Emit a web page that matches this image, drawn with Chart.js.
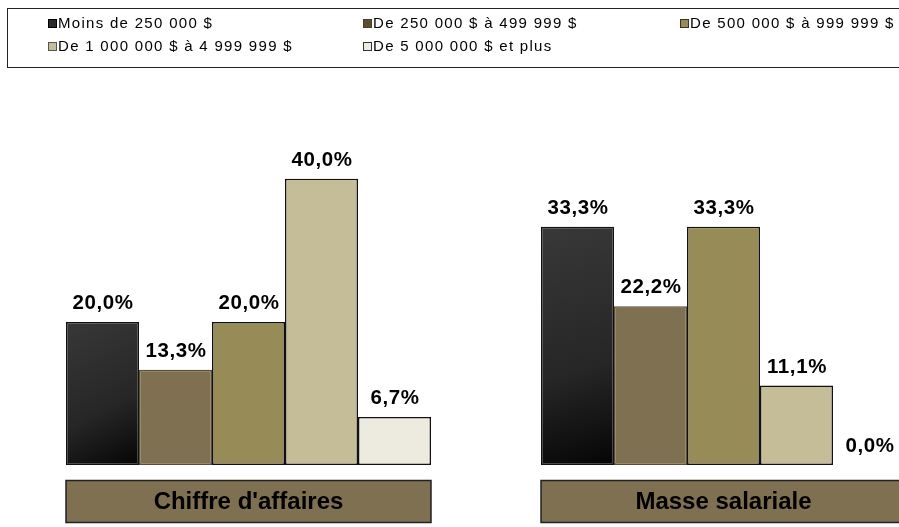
<!DOCTYPE html>
<html>
<head>
<meta charset="utf-8">
<script src="https://cdn.jsdelivr.net/npm/chart.js@4/dist/chart.umd.min.js"></script>
<style>
  html, body { margin: 0; padding: 0; background: #fff; overflow: hidden; width: 899px; height: 527px; }
  #wrap { position: absolute; left: 0; top: 0; width: 972px; height: 527px; }
  #legend { position: absolute; left: 7px; top: 8px; width: 960px; height: 60px; border: 1.5px solid #222; box-sizing: border-box; }
  .item { position: absolute; font-family: "Liberation Sans", Arial, sans-serif; font-size: 15px; letter-spacing: 1.3px; color: #000; white-space: nowrap; line-height: 16px; }
  .sw { display: inline-block; width: 7px; height: 7px; border: 1px solid #000; margin-right: 1px; vertical-align: 0px; }
</style>
</head>
<body>
<div id="wrap">
  <canvas id="c" width="972" height="527"></canvas>
  <div id="legend"></div>
</div>
<script>
const categories = ["Chiffre d'affaires", "Masse salariale"];
const seriesNames = ["Moins de 250 000 $", "De 250 000 $ à 499 999 $", "De 500 000 $ à 999 999 $", "De 1 000 000 $ à 4 999 999 $", "De 5 000 000 $ et plus"];
const moins250k = [20.0, 33.3];
const de250kA499k = [13.3, 22.2];
const de500kA999k = [20.0, 33.3];
const de1mA4m = [40.0, 11.1];
const de5mEtPlus = [6.7, 0.0];

const fills = ["#1e1e1e", "#7e7050", "#978b58", "#c5bd98", "#edebe0"];
const borders = ["#111111", "#5a4f33", "#111111", "#111111", "#111111"];
const swatchFills = ["#2a2a2a", "#5b4f31", "#978b58", "#c5bd98", "#edebe0"];
const swatchBorders = ["#000", "#4a4028", "#3a3320", "#555", "#333"];
const allSeries = [moins250k, de250kA499k, de500kA999k, de1mA4m, de5mEtPlus];
const CAT_PCT = 0.7684;

// HTML legend
const legendPos = [[40, 6], [355, 6], [672, 6], [40, 29], [355, 29]];
const lg = document.getElementById('legend');
seriesNames.forEach((n, i) => {
  const d = document.createElement('div');
  d.className = 'item';
  d.style.left = legendPos[i][0] + 'px';
  d.style.top = legendPos[i][1] + 'px';
  d.innerHTML = '<span class="sw" style="background:' + swatchFills[i] + ';border-color:' + swatchBorders[i] + '"></span>' + n;
  lg.appendChild(d);
});

function fmt(v) { return v.toFixed(1).replace('.', ',') + '%'; }

const labelPlugin = {
  id: 'labels',
  afterDatasetsDraw(chart) {
    const ctx = chart.ctx;
    ctx.save();
    ctx.font = 'bold 20.5px "Liberation Sans", Arial, sans-serif';
    if ('letterSpacing' in ctx) ctx.letterSpacing = '0.6px';
    ctx.fillStyle = '#000';
    ctx.textAlign = 'center';
    ctx.textBaseline = 'alphabetic';
    chart.data.datasets.forEach((ds, di) => {
      const meta = chart.getDatasetMeta(di);
      meta.data.forEach((bar, i) => {
        ctx.fillText(fmt(ds.data[i]), bar.x + 0.5, bar.y - 13);
      });
    });
    if ('letterSpacing' in ctx) ctx.letterSpacing = '0px';
    // category boxes
    const n = chart.data.datasets.length;
    categories.forEach((cat, i) => {
      const first = chart.getDatasetMeta(0).data[i];
      const last = chart.getDatasetMeta(n - 1).data[i];
      const x0 = first.x - first.width / 2;
      const x1 = last.x + last.width / 2;
      const y0 = chart.chartArea.bottom + 15.5;
      const h = 42;
      ctx.fillStyle = '#7e7050';
      ctx.fillRect(x0, y0, x1 - x0, h);
      ctx.strokeStyle = '#222';
      ctx.lineWidth = 1.5;
      ctx.strokeRect(x0, y0, x1 - x0, h);
      ctx.fillStyle = '#000';
      ctx.font = 'bold 24px "Liberation Sans", Arial, sans-serif';
      ctx.textBaseline = 'middle';
      ctx.fillText(cat, (x0 + x1) / 2, y0 + h / 2 + 1);
    });
    ctx.restore();
  }
};

const datasets = allSeries.map((data, i) => ({
  label: seriesNames[i],
  data: data,
  categoryPercentage: CAT_PCT,
  barPercentage: 1.0,
  backgroundColor: i === 0 ? (c) => {
    const chart = c.chart;
    const a = chart.chartArea;
    const xs = chart.scales.x;
    if (!a || !xs || c.dataIndex === undefined) return fills[0];
    const catW = (xs.right - xs.left) / chart.data.labels.length;
    const left = xs.getPixelForValue(c.dataIndex) - catW * CAT_PCT / 2;
    const w = catW * CAT_PCT / 5;
    const top = chart.scales.y.getPixelForValue(data[c.dataIndex]);
    const g = chart.ctx.createLinearGradient(left, top, left + w, a.bottom);
    g.addColorStop(0, '#383838');
    g.addColorStop(0.6, '#262626');
    g.addColorStop(1, '#050505');
    return g;
  } : fills[i],
  borderColor: borders[i],
  borderWidth: 1.5,
  borderSkipped: false
}));

new Chart(document.getElementById('c'), {
  type: 'bar',
  data: { labels: categories, datasets: datasets },
  options: {
    responsive: false,
    animation: false,
    layout: { padding: { left: 11, right: 11, top: 143, bottom: 62 } },
    plugins: { legend: { display: false }, tooltip: { enabled: false } },
    scales: {
      x: { display: false },
      y: { display: false, min: 0, max: 45 }
    }
  },
  plugins: [labelPlugin]
});
</script>
</body>
</html>
